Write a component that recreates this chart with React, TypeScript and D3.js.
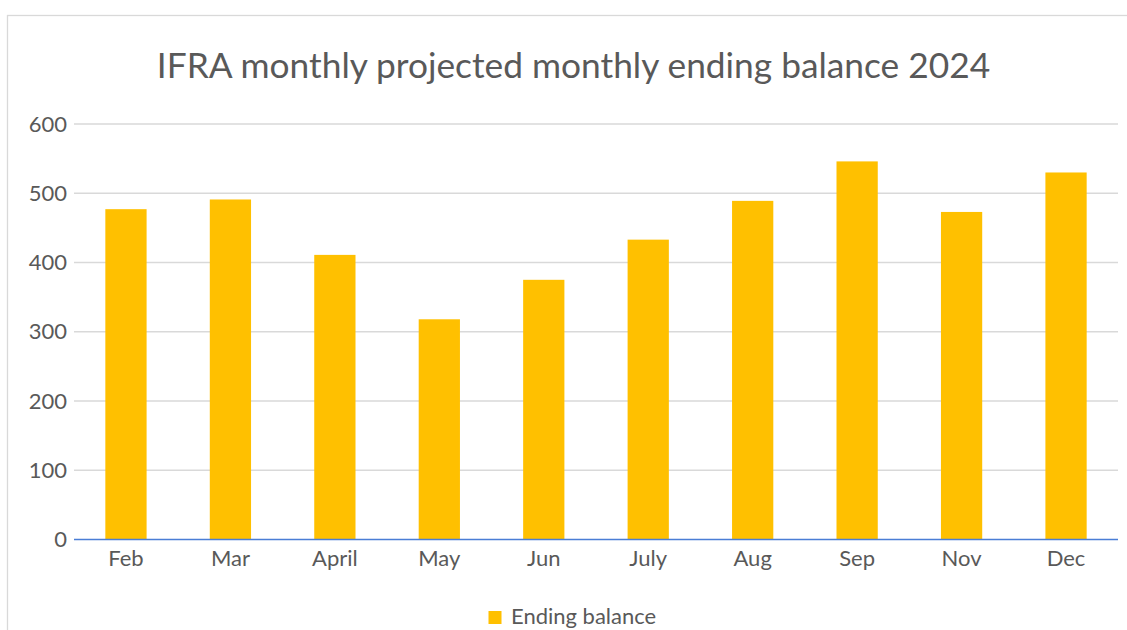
import React from "react";
import * as d3 from "d3";

const categories = ["Feb", "Mar", "April", "May", "Jun", "July", "Aug", "Sep", "Nov", "Dec"];
const endingBalance = [477, 491, 411, 318, 375, 433, 489, 546, 473, 530];
const yTicks = [0, 100, 200, 300, 400, 500, 600];
const title = "IFRA monthly projected monthly ending balance 2024";
const seriesName = "Ending balance";

export default function App() {
  const W = 1127, H = 630;
  const left = 74, right = 1118, top = 124, bottom = 539.5;
  const x = d3.scaleBand<string>().domain(categories).range([left, right]).paddingInner(0.605).paddingOuter(0.3);
  const y = d3.scaleLinear().domain([0, 600]).range([bottom, top]);
  const font = "Lato, 'Open Sans', sans-serif";
  const textColor = "#595959";
  return (
    <svg width={W} height={H} style={{ position: "absolute", left: 0, top: 0 }}>
      <rect x={0} y={0} width={W} height={H} fill="#fff" />
      <rect x={7.5} y={15.5} width={1140} height={640} fill="#fff" stroke="#d9d9d9" strokeWidth={1.3} />
      <text x={573.5} y={78} textAnchor="middle" fontFamily={font} fontSize={35.3} fill={textColor}>{title}</text>
      {yTicks.map((t) => (
        <g key={t}>
          {t !== 0 && <line x1={left} x2={right} y1={y(t)} y2={y(t)} stroke="#d9d9d9" strokeWidth={1.3} />}
          <text x={67} y={y(t)} dy="0.35em" textAnchor="end" fontFamily={font} fontSize={22} fill={textColor}>{t}</text>
        </g>
      ))}
      {categories.map((c, i) => (
        <rect key={c} x={x(c)} y={y(endingBalance[i])} width={x.bandwidth()} height={y(0) - y(endingBalance[i])} fill="#ffc000" />
      ))}
      <line x1={left} x2={right} y1={y(0)} y2={y(0)} stroke="#4a7ed6" strokeWidth={1.6} />
      {categories.map((c) => (
        <text key={c} x={(x(c) as number) + x.bandwidth() / 2} y={566} textAnchor="middle" fontFamily={font} fontSize={22} fill={textColor}>{c}</text>
      ))}
      <rect x={488.5} y={611} width={13} height={13} fill="#ffc000" />
      <text x={511} y={624} fontFamily={font} fontSize={22} fill={textColor}>{seriesName}</text>
    </svg>
  );
}
